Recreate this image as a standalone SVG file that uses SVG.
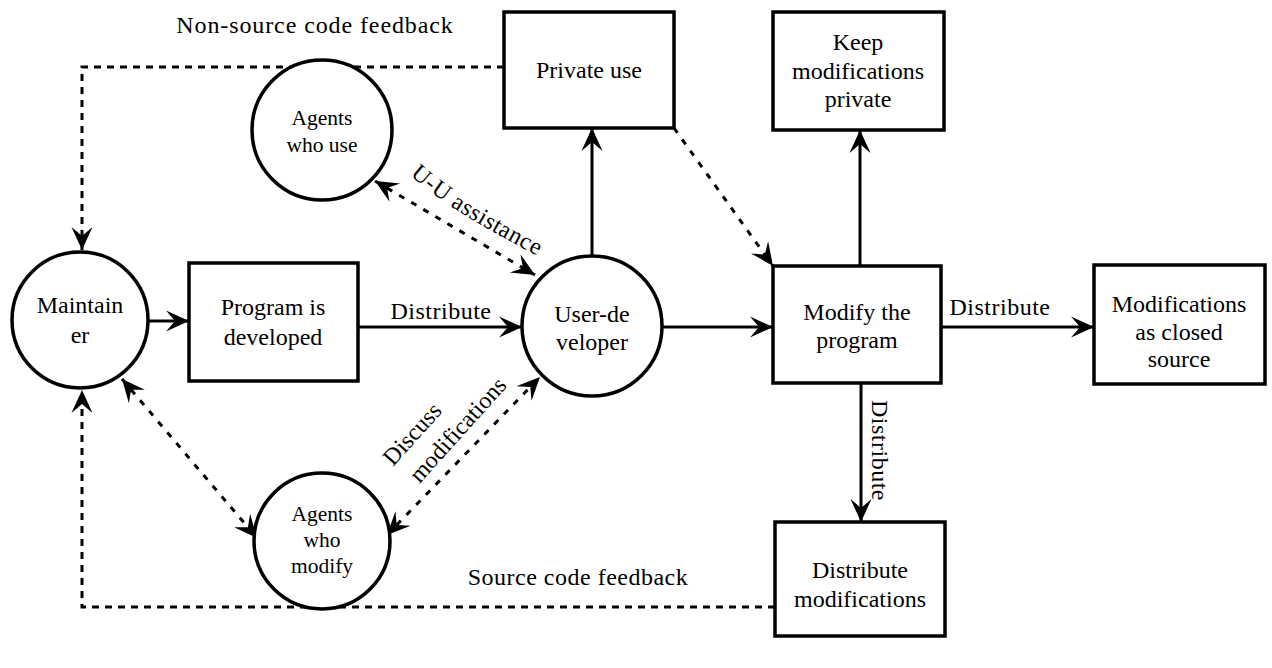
<svg xmlns="http://www.w3.org/2000/svg" width="1272" height="668" viewBox="0 0 1272 668">
<style>
text{font-family:'Liberation Serif',Tinos,'Times New Roman',Times,'DejaVu Serif',serif;font-size:24px;fill:#000}
.c{text-anchor:middle}
.s{font-size:21.5px}
.lbl{letter-spacing:0.5px}
.node{fill:#fff;stroke:#000;stroke-width:3.5}
.ln{fill:none;stroke:#000;stroke-width:3}
.dash{fill:none;stroke:#000;stroke-width:3;stroke-dasharray:7 6}
.dot{fill:none;stroke:#000;stroke-width:3;stroke-dasharray:6 8}
</style>
<defs>
<marker id="ah" viewBox="-25 -12 27 24" refX="0" refY="0" markerWidth="27" markerHeight="24" markerUnits="userSpaceOnUse" orient="auto-start-reverse">
<path d="M0,0 L-23,-10.5 L-14,0 L-23,10.5 Z" fill="#000"/>
</marker>
</defs>
<rect width="1272" height="668" fill="#fff"/>
<g id="connectors">
<line class="ln" x1="148" y1="321" x2="189" y2="321" marker-end="url(#ah)"/>
<line class="ln" x1="358" y1="327" x2="522" y2="327" marker-end="url(#ah)"/>
<line class="ln" x1="662" y1="327" x2="773" y2="327" marker-end="url(#ah)"/>
<line class="ln" x1="941" y1="327" x2="1094" y2="327" marker-end="url(#ah)"/>
<line class="ln" x1="861" y1="383" x2="861" y2="522" marker-end="url(#ah)"/>
<line class="ln" x1="860" y1="266" x2="860" y2="130" marker-end="url(#ah)"/>
<line class="ln" x1="592" y1="256" x2="592" y2="128" marker-end="url(#ah)"/>
<line class="dot" x1="674" y1="128" x2="773" y2="266" marker-end="url(#ah)"/>
<path class="dash" d="M504,67 H82 V250" marker-end="url(#ah)"/>
<path class="dash" d="M775,607 H82 V390" marker-end="url(#ah)"/>
<line class="dot" x1="375" y1="181" x2="535" y2="275" marker-start="url(#ah)" marker-end="url(#ah)"/>
<line class="dot" x1="122" y1="379" x2="257" y2="538" marker-start="url(#ah)" marker-end="url(#ah)"/>
<line class="dot" x1="387" y1="535" x2="540" y2="377" marker-start="url(#ah)" marker-end="url(#ah)"/>
<text class="c" x="315" y="33" style="letter-spacing:0.9px">Non-source code feedback</text>
<text class="c lbl" x="578" y="585">Source code feedback</text>
<text class="c lbl" x="441" y="319">Distribute</text>
<text class="c lbl" x="1000" y="315">Distribute</text>
<text class="lbl" transform="translate(872,400) rotate(90)">Distribute</text>
<path id="uupath" d="M410,175 Q452,214 566,270" fill="none"/>
<text class="lbl"><textPath href="#uupath">U-U assistance</textPath></text>
<g transform="translate(393,467) rotate(-48)">
<text x="0" y="0">Discuss</text>
<text x="5" y="31">modifications</text>
</g>
</g>
<g id="maintainer">
<circle class="node" cx="80" cy="320" r="68"/>
<text class="c" x="80" y="313">Maintain</text>
<text class="c" x="80" y="343">er</text>
</g>
<g id="program-developed">
<rect class="node" x="189" y="263" width="169" height="118"/>
<text class="c" x="273" y="315">Program is</text>
<text class="c" x="273" y="345">developed</text>
</g>
<g id="user-developer">
<circle class="node" cx="592" cy="326" r="70"/>
<text class="c" x="592" y="322">User-de</text>
<text class="c" x="592" y="350">veloper</text>
</g>
<g id="agents-use">
<circle class="node" cx="322" cy="130" r="70"/>
<text class="c s" x="322" y="125">Agents</text>
<text class="c s" x="322" y="152">who use</text>
</g>
<g id="agents-modify">
<circle class="node" cx="322" cy="541" r="68"/>
<text class="c s" x="322" y="521">Agents</text>
<text class="c s" x="322" y="547">who</text>
<text class="c s" x="322" y="573">modify</text>
</g>
<g id="private-use">
<rect class="node" x="504" y="12" width="170" height="116"/>
<text class="c" x="589" y="78">Private use</text>
</g>
<g id="keep-private">
<rect class="node" x="773" y="12" width="171" height="118"/>
<text class="c" x="858" y="50">Keep</text>
<text class="c" x="858" y="79">modifications</text>
<text class="c" x="858" y="107">private</text>
</g>
<g id="modify-program">
<rect class="node" x="773" y="266" width="168" height="117"/>
<text class="c" x="857" y="320">Modify the</text>
<text class="c" x="857" y="348">program</text>
</g>
<g id="closed-source">
<rect class="node" x="1094" y="265" width="171" height="119"/>
<text class="c" x="1179" y="312">Modifications</text>
<text class="c" x="1179" y="340">as closed</text>
<text class="c" x="1179" y="367">source</text>
</g>
<g id="distribute-modifications">
<rect class="node" x="775" y="522" width="170" height="114"/>
<text class="c" x="860" y="578">Distribute</text>
<text class="c" x="860" y="607">modifications</text>
</g>
</svg>
